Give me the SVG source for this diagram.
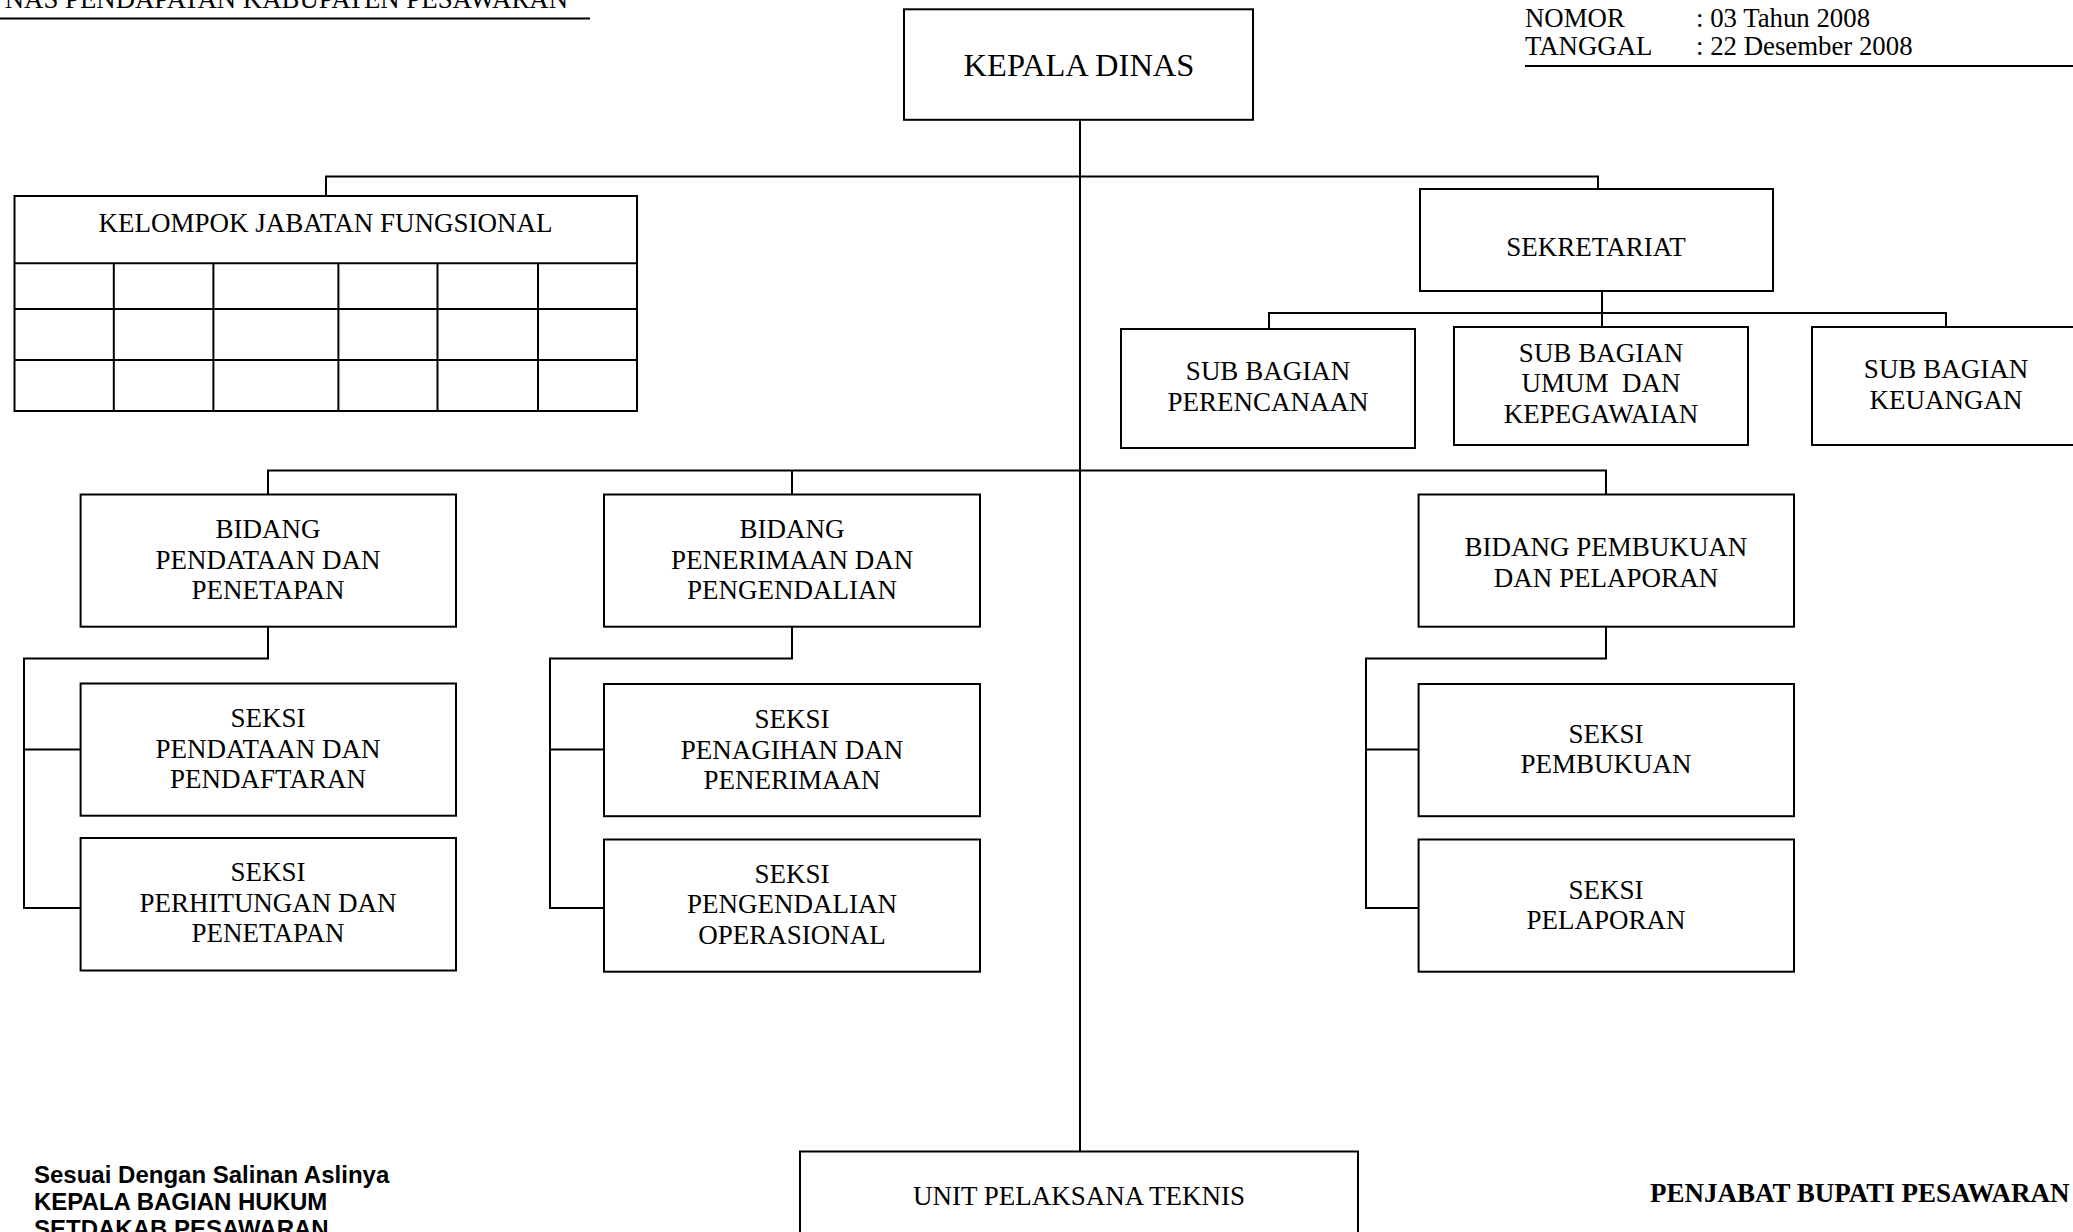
<svg xmlns="http://www.w3.org/2000/svg" width="2073" height="1232" viewBox="0 0 2073 1232">
<style>
  .box { fill: #ffffff; stroke: #000000; stroke-width: 2; }
  .ln { fill: none; stroke: #000000; stroke-width: 2; }
  .t { font-family: "Liberation Serif", "Times New Roman", serif; font-size: 27px; fill: #000000; text-anchor: middle; white-space: pre; }
  .big { font-size: 32.5px; }
  .hdr { font-family: "Liberation Serif", "Times New Roman", serif; font-size: 26.8px; fill: #000000; white-space: pre; }
  .foot { font-family: "Liberation Sans", Arial, sans-serif; font-size: 24px; font-weight: bold; fill: #000000; }
  .sign { font-family: "Liberation Serif", "Times New Roman", serif; font-size: 27px; font-weight: bold; fill: #000000; }
</style>
<rect x="0" y="0" width="2073" height="1232" fill="#ffffff"/>

<g id="header">
  <text class="hdr" x="568" y="8" text-anchor="end">NAS PENDAPATAN KABUPATEN PESAWARAN</text>
  <line class="ln" x1="0" y1="18.5" x2="590" y2="18.5"/>
  <text class="hdr" x="1525" y="27">NOMOR</text>
  <text class="hdr" x="1696" y="27">: 03 Tahun 2008</text>
  <text class="hdr" x="1525" y="55">TANGGAL</text>
  <text class="hdr" x="1696" y="55">: 22 Desember 2008</text>
  <line class="ln" x1="1525" y1="66" x2="2073" y2="66"/>
</g>

<g id="connectors">
  <line class="ln" x1="1080" y1="120" x2="1080" y2="1152"/>
  <polyline class="ln" points="326,197 326,176.5 1598,176.5 1598,189"/>
  <line class="ln" x1="1602" y1="291" x2="1602" y2="327"/>
  <polyline class="ln" points="1269,329 1269,313 1946,313 1946,327"/>
  <polyline class="ln" points="268,494.5 268,470.5 1606,470.5 1606,494.5"/>
  <line class="ln" x1="792" y1="470.5" x2="792" y2="494.5"/>
  <polyline class="ln" points="268,626.7 268,658.4 24,658.4 24,908 80.6,908"/>
  <line class="ln" x1="24" y1="749.6" x2="80.6" y2="749.6"/>
  <polyline class="ln" points="792,626.7 792,658.4 550,658.4 550,908 604,908"/>
  <line class="ln" x1="550" y1="749.6" x2="604" y2="749.6"/>
  <polyline class="ln" points="1606,626.7 1606,658.4 1366,658.4 1366,908 1418.6,908"/>
  <line class="ln" x1="1366" y1="749.6" x2="1418.6" y2="749.6"/>
</g>

<g id="kepala-dinas">
  <rect class="box" x="904" y="9.3" width="349" height="110.5"/>
  <text class="t big" x="1079" y="76">KEPALA DINAS</text>
</g>

<g id="kelompok-jabatan-fungsional">
  <rect class="box" x="14.5" y="196" width="622.5" height="215"/>
  <line class="ln" x1="14.5" y1="263.3" x2="637" y2="263.3"/>
  <line class="ln" x1="14.5" y1="309" x2="637" y2="309"/>
  <line class="ln" x1="14.5" y1="360" x2="637" y2="360"/>
  <line class="ln" x1="113.8" y1="263.3" x2="113.8" y2="411"/>
  <line class="ln" x1="213.4" y1="263.3" x2="213.4" y2="411"/>
  <line class="ln" x1="338.4" y1="263.3" x2="338.4" y2="411"/>
  <line class="ln" x1="437.5" y1="263.3" x2="437.5" y2="411"/>
  <line class="ln" x1="538" y1="263.3" x2="538" y2="411"/>
  <text class="t" x="325.5" y="232">KELOMPOK JABATAN FUNGSIONAL</text>
</g>

<g id="sekretariat">
  <rect class="box" x="1420" y="189" width="353" height="102"/>
  <text class="t" x="1596" y="256">SEKRETARIAT</text>
</g>

<g id="sub-bagian-perencanaan">
  <rect class="box" x="1121" y="329" width="294" height="119"/>
  <text class="t" x="1268" y="380">SUB BAGIAN</text>
  <text class="t" x="1268" y="410.5">PERENCANAAN</text>
</g>

<g id="sub-bagian-umum">
  <rect class="box" x="1454" y="327" width="294" height="118"/>
  <text class="t" x="1601" y="361.5">SUB BAGIAN</text>
  <text class="t" x="1601" y="392">UMUM  DAN</text>
  <text class="t" x="1601" y="422.5">KEPEGAWAIAN</text>
</g>

<g id="sub-bagian-keuangan">
  <rect class="box" x="1812" y="327" width="275" height="118"/>
  <text class="t" x="1946" y="378">SUB BAGIAN</text>
  <text class="t" x="1946" y="409">KEUANGAN</text>
</g>

<g id="bidang-pendataan">
  <rect class="box" x="80.6" y="494.5" width="375.4" height="132.2"/>
  <text class="t" x="268" y="538">BIDANG</text>
  <text class="t" x="268" y="568.5">PENDATAAN DAN</text>
  <text class="t" x="268" y="599">PENETAPAN</text>
</g>

<g id="bidang-penerimaan">
  <rect class="box" x="604" y="494.5" width="376" height="132.2"/>
  <text class="t" x="792" y="538">BIDANG</text>
  <text class="t" x="792" y="568.5">PENERIMAAN DAN</text>
  <text class="t" x="792" y="599">PENGENDALIAN</text>
</g>

<g id="bidang-pembukuan">
  <rect class="box" x="1418.6" y="494.5" width="375.4" height="132.2"/>
  <text class="t" x="1606" y="556">BIDANG PEMBUKUAN</text>
  <text class="t" x="1606" y="587">DAN PELAPORAN</text>
</g>

<g id="seksi-pendataan">
  <rect class="box" x="80.6" y="683.5" width="375.4" height="132.2"/>
  <text class="t" x="268" y="727">SEKSI</text>
  <text class="t" x="268" y="757.5">PENDATAAN DAN</text>
  <text class="t" x="268" y="788">PENDAFTARAN</text>
</g>

<g id="seksi-perhitungan">
  <rect class="box" x="80.6" y="838" width="375.4" height="132.5"/>
  <text class="t" x="268" y="881">SEKSI</text>
  <text class="t" x="268" y="911.5">PERHITUNGAN DAN</text>
  <text class="t" x="268" y="942">PENETAPAN</text>
</g>

<g id="seksi-penagihan">
  <rect class="box" x="604" y="684" width="376" height="132.2"/>
  <text class="t" x="792" y="728">SEKSI</text>
  <text class="t" x="792" y="758.5">PENAGIHAN DAN</text>
  <text class="t" x="792" y="789">PENERIMAAN</text>
</g>

<g id="seksi-pengendalian">
  <rect class="box" x="604" y="839.5" width="376" height="132.2"/>
  <text class="t" x="792" y="882.5">SEKSI</text>
  <text class="t" x="792" y="913">PENGENDALIAN</text>
  <text class="t" x="792" y="943.5">OPERASIONAL</text>
</g>

<g id="seksi-pembukuan">
  <rect class="box" x="1418.6" y="684" width="375.4" height="132.2"/>
  <text class="t" x="1606" y="742.5">SEKSI</text>
  <text class="t" x="1606" y="773">PEMBUKUAN</text>
</g>

<g id="seksi-pelaporan">
  <rect class="box" x="1418.6" y="839.5" width="375.4" height="132.2"/>
  <text class="t" x="1606" y="898.5">SEKSI</text>
  <text class="t" x="1606" y="929">PELAPORAN</text>
</g>

<g id="unit-pelaksana-teknis">
  <rect class="box" x="800" y="1151.5" width="558" height="100"/>
  <text class="t" x="1079" y="1205">UNIT PELAKSANA TEKNIS</text>
</g>

<g id="footer">
  <text class="foot" x="34" y="1183">Sesuai Dengan Salinan Aslinya</text>
  <text class="foot" x="34" y="1210">KEPALA BAGIAN HUKUM</text>
  <text class="foot" x="34" y="1237">SETDAKAB PESAWARAN</text>
  <text class="sign" x="1650" y="1202">PENJABAT BUPATI PESAWARAN</text>
</g>
</svg>
